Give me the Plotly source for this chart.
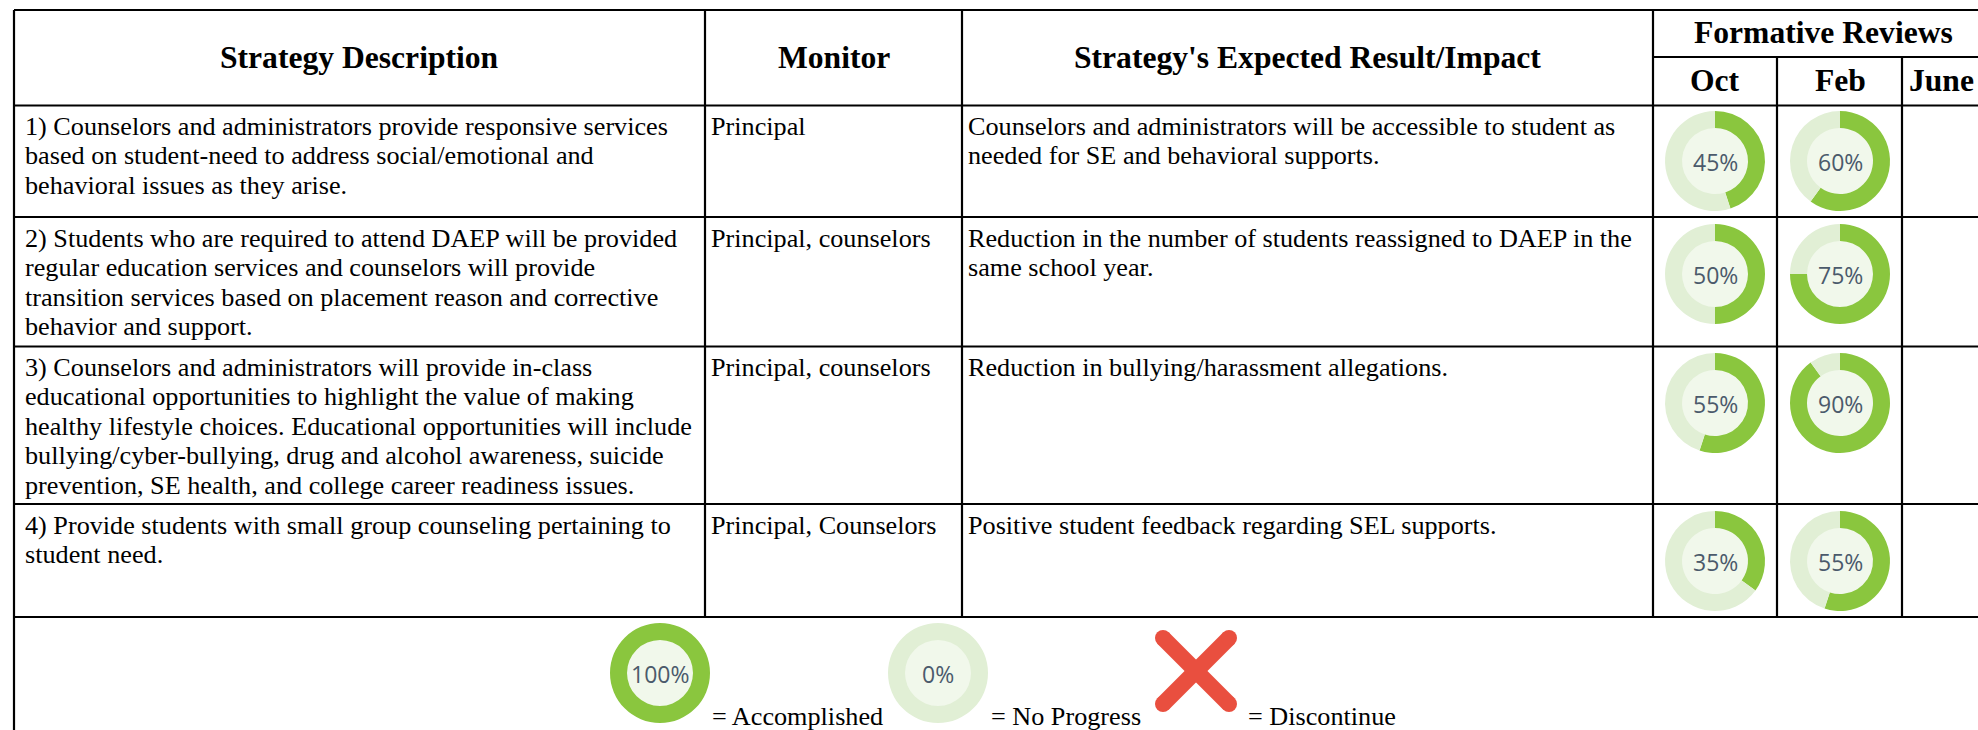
import plotly.graph_objects as go

# ---- data ----
strategy_lines = [
    ["1) Counselors and administrators provide responsive services",
     "based on student-need to address social/emotional and",
     "behavioral issues as they arise."],
    ["2) Students who are required to attend DAEP will be provided",
     "regular education services and counselors will provide",
     "transition services based on placement reason and corrective",
     "behavior and support."],
    ["3) Counselors and administrators will provide in-class",
     "educational opportunities to highlight the value of making",
     "healthy lifestyle choices. Educational opportunities will include",
     "bullying/cyber-bullying, drug and alcohol awareness, suicide",
     "prevention, SE health, and college career readiness issues."],
    ["4) Provide students with small group counseling pertaining to",
     "student need."],
]
monitors = ["Principal", "Principal, counselors", "Principal, counselors", "Principal, Counselors"]
impact_lines = [
    ["Counselors and administrators will be accessible to student as",
     "needed for SE and behavioral supports."],
    ["Reduction in the number of students reassigned to DAEP in the",
     "same school year."],
    ["Reduction in bullying/harassment allegations."],
    ["Positive student feedback regarding SEL supports."],
]
oct_values = [45, 50, 55, 35]
feb_values = [60, 75, 90, 55]
legend_values = [100, 0]
legend_labels = ["= Accomplished", "= No Progress", "= Discontinue"]
main_headers = ["Strategy Description", "Monitor", "Strategy's Expected Result/Impact"]
review_title = "Formative Reviews"
review_months = ["Oct", "Feb", "June"]

# ---- layout constants (pixels) ----
W, H = 1978, 730
SERIF = "Liberation Serif"
GREEN, PALE, CORE, RED = "#8AC63E", "#E1EFD5", "#F1F8EB", "#E94F3F"
col_x = [14, 705, 962, 1653, 1777, 1902]
row_y = [10, 105.5, 217, 346.5, 504, 617]
row_text_y = [126, 238, 367, 525]
donut_y = [161, 274, 403, 561]
donut_x = [1715, 1840]
R = 50
LINE_H = 29.6
BODY = 26.2
HEAD = 31.6
CROSS_C = (1196, 671)
CROSS_ARM = 33

fig = go.Figure()
shapes, notes = [], []

def hline(y, x0=col_x[0], x1=W):
    shapes.append(dict(type="line", xref="x", yref="y", x0=x0, x1=x1, y0=y, y1=y,
                       line=dict(color="#000", width=2.2)))

def vline(x, y0, y1):
    shapes.append(dict(type="line", xref="x", yref="y", x0=x, x1=x, y0=y0, y1=y1,
                       line=dict(color="#000", width=2.2)))

def text(x, y, s, size=BODY, bold=False, anchor="left", color="#000", family=SERIF):
    notes.append(dict(xref="x", yref="y", x=x, y=y, text=f"<b>{s}</b>" if bold else s,
                      showarrow=False, xanchor=anchor, yanchor="middle", xshift=0,
                      align=anchor, borderpad=0,
                      font=dict(family=family, size=size, color=color)))

def donut(cx, cy, v):
    fig.add_trace(go.Scatter(x=[cx], y=[cy], mode="markers", hoverinfo="skip", showlegend=False,
                             marker=dict(size=2 * R * 0.68, color=CORE, line=dict(width=0))))
    fig.add_trace(go.Pie(values=[v, 100 - v], hole=0.66, sort=False, direction="clockwise", rotation=0,
                         domain=dict(x=[(cx - R) / W, (cx + R) / W],
                                     y=[1 - (cy + R) / H, 1 - (cy - R) / H]),
                         marker=dict(colors=[GREEN, PALE], line=dict(width=0)),
                         textinfo="none", hoverinfo="skip", showlegend=False))
    text(cx, cy + 1, f"{v}%", size=23, anchor="center", color="#4B5A6B", family="Open Sans")

# grid
for y in row_y:
    hline(y)
hline(57, x0=col_x[3])
vline(col_x[0], row_y[0], H)
for x in col_x[1:4]:
    vline(x, row_y[0], row_y[5])
for x in col_x[4:]:
    vline(x, 57, row_y[5])

# headers
for x, s in zip([359, 834, 1307], main_headers):
    text(x, 57, s, size=HEAD, bold=True, anchor="center")
text(1823, 32, review_title, size=HEAD, bold=True, anchor="center")
for x, s in zip([1715, 1840, 1941], review_months):
    text(x, 80, s, size=HEAD, bold=True, anchor="center")

# body rows
for i in range(4):
    top = row_text_y[i]
    for j, s in enumerate(strategy_lines[i]):
        text(col_x[0] + 10, top + j * LINE_H, s)
    text(col_x[1] + 5, top, monitors[i])
    for j, s in enumerate(impact_lines[i]):
        text(col_x[2] + 5, top + j * LINE_H, s)
    donut(donut_x[0], donut_y[i], oct_values[i])
    donut(donut_x[1], donut_y[i], feb_values[i])

# legend strip
for cx, v in zip([660, 938], legend_values):
    donut(cx, 673, v)
for sign in (1, -1):
    cx, cy = CROSS_C
    fig.add_trace(go.Scatter(x=[cx - CROSS_ARM, cx + CROSS_ARM],
                             y=[cy - sign * CROSS_ARM, cy + sign * CROSS_ARM],
                             mode="lines+markers", hoverinfo="skip", showlegend=False,
                             line=dict(color=RED, width=16),
                             marker=dict(size=16, color=RED, line=dict(width=0))))
for x, s in zip([711, 990, 1247], legend_labels):
    text(x, 716, s)

fig.update_layout(
    width=W, height=H, margin=dict(l=0, r=0, t=0, b=0),
    paper_bgcolor="#fff", plot_bgcolor="#fff", showlegend=False,
    xaxis=dict(range=[0, W], visible=False, fixedrange=True),
    yaxis=dict(range=[H, 0], visible=False, fixedrange=True),
    shapes=shapes, annotations=notes,
)
fig.write_html("out.html", config={"displayModeBar": False},
               post_script="document.body.style.margin='0';document.body.style.overflow='hidden';")
